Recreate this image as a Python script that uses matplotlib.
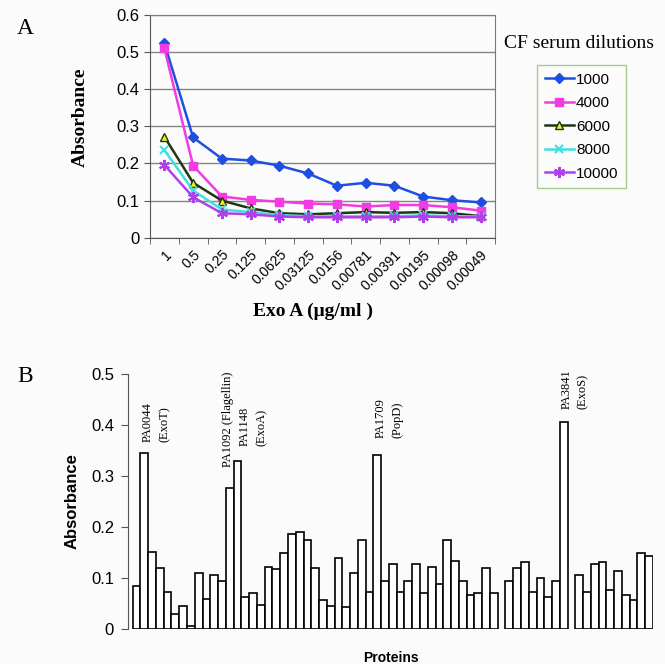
import matplotlib
matplotlib.use("Agg")
import matplotlib.pyplot as plt
import numpy as np

# ---------- DATA: PANEL A ----------
concentrations = ["1", "0.5", "0.25", "0.125", "0.0625", "0.03125", "0.0156",
                  "0.00781", "0.00391", "0.00195", "0.00098", "0.00049"]
dil_1000 = [0.524, 0.270, 0.213, 0.208, 0.194, 0.173, 0.140, 0.148, 0.140, 0.111, 0.101, 0.095]
dil_4000 = [0.510, 0.194, 0.111, 0.102, 0.097, 0.092, 0.090, 0.084, 0.088, 0.088, 0.082, 0.073]
dil_6000 = [0.272, 0.148, 0.100, 0.079, 0.066, 0.063, 0.066, 0.069, 0.067, 0.069, 0.066, 0.058]
dil_8000 = [0.236, 0.127, 0.076, 0.069, 0.061, 0.058, 0.058, 0.058, 0.058, 0.060, 0.058, 0.057]
dil_10000 = [0.196, 0.109, 0.066, 0.063, 0.057, 0.055, 0.055, 0.055, 0.055, 0.057, 0.055, 0.055]

# ---------- DATA: PANEL B ----------
group1 = [0.085, 0.345, 0.151, 0.120, 0.073, 0.030, 0.045, 0.005, 0.110, 0.059,
          0.105, 0.094, 0.276, 0.329, 0.062, 0.071, 0.048, 0.122, 0.118, 0.149,
          0.186, 0.191, 0.174, 0.120, 0.056, 0.046, 0.139, 0.043, 0.110, 0.174,
          0.073, 0.342, 0.094, 0.127, 0.073, 0.094, 0.127, 0.071, 0.122, 0.089,
          0.174, 0.134, 0.094, 0.066, 0.071, 0.120, 0.071]
group2 = [0.094, 0.120, 0.132, 0.073, 0.100, 0.062, 0.094, 0.406]
group3 = [0.105, 0.073, 0.127, 0.132, 0.077, 0.114, 0.066, 0.056, 0.149, 0.144]

# bar index, label text
annot_bars = [1, 12, 13, 31, 54]
annot_texts = ["PA0044\n(ExoT)", "PA1092 (Flagellin)", "PA1148\n(ExoA)",
               "PA1709\n(PopD)", "PA3841\n(ExoS)"]
# placement tweaks (bar widths, absorbance units)
annot_dx = [-0.3, -1.0, 0.2, -0.3, -0.45]
annot_dy = [0.022, 0.042, 0.029, 0.032, 0.026]

SANS = "Liberation Sans"
SERIF = "Liberation Serif"
BG = "#fbfbfb"

fig = plt.figure(figsize=(6.65, 6.64), dpi=100, facecolor=BG)

# ---------- PANEL A ----------
axA = fig.add_axes([150 / 665, 1 - 237.7 / 664, 345 / 665, 222.7 / 664], facecolor=BG)
x = np.arange(len(concentrations))

series = [
    ("1000", dil_1000, dict(color="#1f4fe0", marker="D", ms=5, mfc="#1f4fe0", mec="#1f4fe0")),
    ("4000", dil_4000, dict(color="#f03ce0", marker="s", ms=6, mfc="#f03ce0", mec="#f03ce0")),
    ("6000", dil_6000, dict(color="#1e3612", marker="^", ms=5.5, mfc="#f0f020", mec="#1e3612")),
    ("8000", dil_8000, dict(color="#40e0e0", marker="x", ms=6, mew=1.5)),
    ("10000", dil_10000, dict(color="#b040e8", marker=(6, 2, 0), ms=8, mew=1.5)),
]
for name, vals, style in series:
    axA.plot(x, vals, lw=1.8, label=name, **style)

axA.set_xlim(-0.5, len(concentrations) - 0.5)
axA.set_ylim(0, 0.6)
axA.set_yticks(np.arange(0, 0.61, 0.1))
axA.set_yticklabels(["0", "0.1", "0.2", "0.3", "0.4", "0.5", "0.6"], fontfamily=SANS, fontsize=12)
axA.yaxis.grid(True, color="#858585", lw=1)
axA.set_axisbelow(True)
axA.set_xticks(x)
axA.set_xticklabels(concentrations, rotation=45, ha="right", rotation_mode="anchor",
                    fontfamily=SANS, fontsize=10)
axA.set_xticks(np.arange(-0.5, len(concentrations)), minor=True)
axA.tick_params(axis="x", which="major", length=0, pad=7)
axA.tick_params(axis="x", which="minor", length=4, color="#555555")
axA.tick_params(axis="y", length=4, color="#555555")
for s in ["top", "right"]:
    axA.spines[s].set_color("#7a7a7a")
for s in ["left", "bottom"]:
    axA.spines[s].set_color("#555555")
axA.set_ylabel("Absorbance", fontfamily=SERIF, fontweight="bold", fontsize=14)
axA.yaxis.set_label_coords(-0.178, 0.54)
axA.set_xlabel("Exo A (\u03bcg/ml )", fontfamily=SERIF, fontweight="bold", fontsize=14)
axA.xaxis.set_label_coords(0.472, -0.29)

leg = axA.legend(loc="upper left", bbox_to_anchor=(537 / 665, 1 - 65 / 664),
                 bbox_transform=fig.transFigure, frameon=True, fancybox=False,
                 borderaxespad=0, prop={"family": SANS, "size": 11}, handlelength=1.9,
                 handletextpad=0.15, borderpad=0.5, labelspacing=0.62)
leg.get_frame().set_edgecolor("#8fc070")
leg.get_frame().set_facecolor(BG)
leg.get_frame().set_linewidth(1.0)
fig.text(579 / 665, 1 - 44 / 664, "CF serum dilutions", fontfamily=SERIF, fontsize=14,
         ha="center", va="center")
fig.text(17 / 665, 1 - 28 / 664, "A", fontfamily=SERIF, fontsize=17, va="center")

# ---------- PANEL B ----------
axB = fig.add_axes([128 / 665, 1 - 629 / 664, 525 / 665, 255 / 664], facecolor=BG)
pos1 = np.arange(len(group1))
pos2 = np.arange(len(group2)) + len(group1) + 1
pos3 = np.arange(len(group3)) + len(group1) + len(group2) + 2
positions = np.concatenate([pos1, pos2, pos3])
values = group1 + group2 + group3
axB.bar(positions, values, width=1.0, color="white", edgecolor="black", lw=1.2)

for idx, label, dx, dy in zip(annot_bars, annot_texts, annot_dx, annot_dy):
    axB.text(positions[idx] + dx, values[idx] + dy, label, rotation=90,
             ha="left", va="bottom", fontfamily=SERIF, fontsize=9,
             linespacing=1.55, multialignment="left")

axB.set_xlim(-1.1, positions[-1] + 0.5)
axB.set_ylim(0, 0.5)
axB.set_yticks(np.arange(0, 0.51, 0.1))
axB.set_yticklabels(["0", "0.1", "0.2", "0.3", "0.4", "0.5"], fontfamily=SANS, fontsize=12)
axB.tick_params(axis="y", length=5, color="#555555", pad=5)
axB.set_xticks([])
for s in ["top", "right", "bottom"]:
    axB.spines[s].set_visible(False)
axB.spines["left"].set_color("#555555")
axB.set_ylabel("Absorbance", fontfamily=SANS, fontweight="bold", fontsize=12, labelpad=8)
axB.set_xlabel("Proteins", fontfamily=SANS, fontweight="bold", fontsize=10, labelpad=16)
fig.text(17 / 665, 1 - 377 / 664, "B", fontfamily=SERIF, fontsize=17, va="center")

fig.savefig("out.png", dpi=100, facecolor=BG)
